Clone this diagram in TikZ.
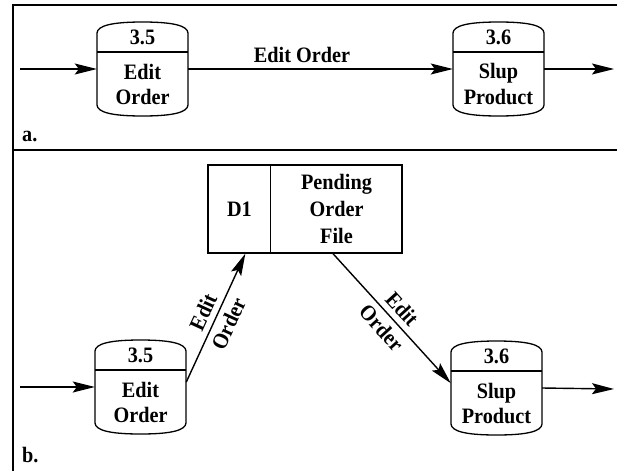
\documentclass[tikz,border=0pt]{standalone}
\usepackage{fontspec}
\setmainfont{Liberation Serif}[FakeStretch=0.92]
\usetikzlibrary{arrows.meta,calc}
\tikzset{
  every node/.style={font=\fontsize{22}{25}\selectfont\bfseries, inner sep=0pt},
  frameline/.style={line width=1.5pt},
  sepline/.style={line width=2.5pt},
  shapeline/.style={line width=1.3pt},
  procnode/.style={minimum width=91pt, minimum height=94pt, draw=none},
  arr/.style={line width=1.4pt, -{Stealth[length=22pt,width=11pt,inset=4pt]}},
  lbl/.style={align=center},
  dlbl/.style={align=center, font=\fontsize{22}{28}\selectfont\bfseries},
}
\newcommand\procshape[5]{%
  \node[procnode] (#1) at (#2,#3) {};
  \begin{scope}[shift={(#2,#3)}]
    \draw[shapeline] (-45.5,-36) .. controls (-45,-43) and (-32,-47) .. (0,-47)
      .. controls (32,-47) and (45,-43) .. (45.5,-36) -- (45.5,36)
      .. controls (45,43) and (32,47) .. (0,47)
      .. controls (-32,47) and (-45,43) .. (-45.5,36) -- cycle;
    \draw[shapeline] (-45.5,-17) -- (45.5,-17);
    \node (#1-num) at (0,-32) {#4};
    \node[lbl] (#1-txt) at (0,15) {#5};
  \end{scope}
}
\begin{document}
\begin{tikzpicture}[x=1pt,y=-1pt]
\useasboundingbox (0,0) rectangle (617,471);
% frame
\coordinate (fTL) at (13,5);
\coordinate (fTR) at (617,5);
\coordinate (fBL) at (13,471);
\coordinate (sL) at (13,150);
\coordinate (sR) at (617,150);
\draw[frameline] (fTR) -- (fTL) -- (fBL);
\draw[sepline] (sL) -- (sR);

% panel a
\procshape{p35a}{142.5}{69}{3.5}{Edit\\Order}
\procshape{p36a}{498.5}{69}{3.6}{Slup\\Product}
\coordinate (inA) at (20,69);
\coordinate (outA) at (614,69);
\draw[arr] (inA) -- (p35a.west);
\draw[arr] (p35a.east) -- node[pos=0.43, above=6pt] (lblA) {Edit Order} (p36a.west);
\draw[arr] (p36a.east) -- (outA);
\node[anchor=west] (labA) at (22,136) {a.};

% panel b
\node[draw, line width=1.3pt, minimum width=194pt, minimum height=88pt] (store) at (305,209) {};
\draw[shapeline] ($(store.north west)+(63,0)$) coordinate (dtop) -- ($(store.south west)+(63,0)$) coordinate (dbot);
\node (d1) at (239.5,209) {D1};
\node[lbl] (pof) at (336.5,209) {Pending\\[2pt]Order\\[2pt]File};

\procshape{p35b}{140.5}{387}{3.5}{Edit\\Order}
\procshape{p36b}{496.5}{388}{3.6}{Slup\\Product}
\coordinate (inB) at (20,387);
\coordinate (outB) at (614,389);
\draw[arr] (inB) -- (p35b.west);
\draw[arr] (p35b.6) -- node[midway, sloped, dlbl] (lblB1) {Edit\\Order} ($(store.south west)+(38,0)$);
\draw[arr] ($(store.south)+(28,0)$) -- node[midway, sloped, dlbl] (lblB2) {Edit\\Order} (p36b.174);
\draw[arr] (p36b.east) -- (outB);
\node[anchor=west] (labB) at (22,455) {b.};
\end{tikzpicture}
\end{document}
